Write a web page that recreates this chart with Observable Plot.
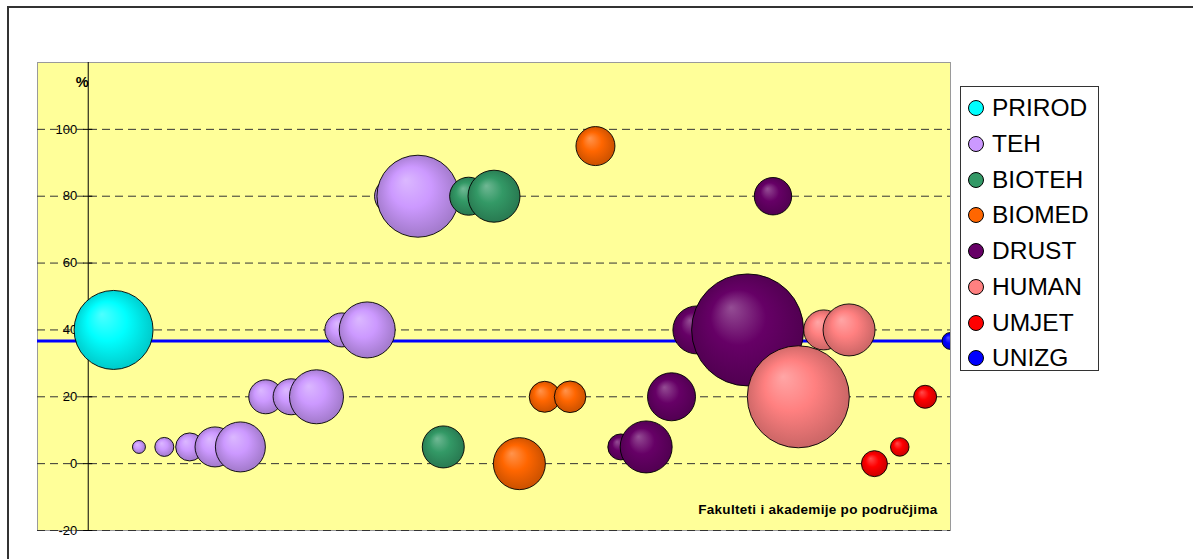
<!DOCTYPE html>
<html>
<head>
<meta charset="utf-8">
<script src="https://cdn.jsdelivr.net/npm/d3@7"></script>
<script src="https://cdn.jsdelivr.net/npm/@observablehq/plot@0.6"></script>
<style>
  body { margin: 0; background: #fff; font-family: "Liberation Sans", Arial, sans-serif; }
  #wrap { position: relative; width: 1193px; height: 559px; overflow: hidden; background: #fff; }
  #wrap svg { position: absolute; left: 0; top: 0; }
  #border { position: absolute; left: 7px; top: 6px; width: 1300px; height: 700px;
            border-left: 2px solid #333; border-top: 2px solid #333; pointer-events: none; }
  #legend { position: absolute; left: 960px; top: 86px; width: 139px; height: 285px;
            border: 1px solid #333; background: #fff; box-sizing: border-box; }
  .item { position: absolute; left: 0; height: 36px; line-height: 36px; font-size: 24.5px; color: #000; white-space: nowrap; }
  .sw { position: absolute; left: 7px; top: 10px; width: 14px; height: 14px; border: 1px solid #000; border-radius: 50%; }
  .lab { position: absolute; left: 31px; top: 0; }
</style>
</head>
<body>
<div id="wrap"></div>
<script>
// ---- data ----
const seriesNames = ["PRIROD", "TEH", "BIOTEH", "BIOMED", "DRUST", "HUMAN", "UMJET", "UNIZG"];
const seriesColors = ["#00FFFF", "#CC99FF", "#339966", "#FF6600", "#660066", "#FF8080", "#FF0000", "#0000FF"];

// bubbles (parallel arrays): series, x position, y value (%), bubble size
const bubbleSeries = [
  "PRIROD",
  "TEH", "TEH", "TEH", "TEH", "TEH", "TEH", "TEH", "TEH", "TEH", "TEH", "TEH", "TEH",
  "BIOTEH", "BIOTEH", "BIOTEH",
  "BIOMED", "BIOMED", "BIOMED", "BIOMED",
  "DRUST", "DRUST", "DRUST", "DRUST", "DRUST", "DRUST",
  "HUMAN", "HUMAN", "HUMAN",
  "UMJET", "UMJET", "UMJET",
  "UNIZG"
];
const bubbleX = [
  1,
  2, 3, 4, 5, 6, 7, 8, 9, 10, 11, 12, 13,
  14, 15, 16,
  17, 18, 19, 20,
  21, 22, 23, 24, 26, 27,
  28, 29, 30,
  31, 32, 33,
  34
];
const bubbleY = [
  40,
  5, 5, 5, 5, 5, 20, 20, 20, 40, 40, 80, 80,
  5, 80, 80,
  0, 20, 20, 95,
  5, 5, 20, 40, 40, 80,
  20, 40, 40,
  0, 5, 20,
  36.7
];
const bubbleSize = [
  1560,
  42, 90, 196, 400, 625, 289, 324, 729, 289, 784, 324, 1681,
  441, 361, 676,
  676, 240, 250, 380,
  169, 676, 576, 576, 3136, 350,
  2601, 400, 676,
  169, 86, 132,
  72
];
const unizgValue = [36.7];
const yTicks = [-20, 0, 20, 40, 60, 80, 100];
const gridTicks = [-20, 0, 20, 40, 60, 80, 100];
const yUnit = ["%"];
const caption = ["Fakulteti i akademije po područjima"];

// ---- build table ----
const bubbles = bubbleSeries.map((s, i) => ({series: s, x: bubbleX[i], y: bubbleY[i], size: bubbleSize[i]}));
const gradId = s => "grad-" + seriesNames.indexOf(s);

const font = "Liberation Sans, Arial, sans-serif";

const dotMarks = seriesNames.map(s => Plot.dot(bubbles.filter(d => d.series === s), {
  x: "x", y: "y", r: "size",
  fill: `url(#${gradId(s)})`,
  stroke: "#000", strokeWidth: 0.9,
  sort: null,
  clip: true
}));

const chart = Plot.plot({
  width: 1193,
  height: 559,
  marginLeft: 37,
  marginRight: 243,
  marginTop: 62,
  marginBottom: 29,
  style: {background: "transparent", fontFamily: font},
  x: {domain: [-2, 34], axis: null},
  y: {domain: [-20, 120], axis: null},
  r: {type: "sqrt", domain: [0, 3136], range: [0, 56]},
  marks: [
    Plot.frame({fill: "#FFFF99", stroke: "#9a9a9a"}),
    Plot.text(yTicks, {x: () => 0, y: d => d, text: d => String(d), dx: -11, textAnchor: "end",
      fontSize: 13, fill: "#000", fontFamily: font}),
    Plot.ruleY(gridTicks, {stroke: "#333", strokeWidth: 1, strokeDasharray: "8,5"}),
    Plot.ruleY(yTicks, {x1: () => -0.18, x2: () => 0.18, stroke: "#000", strokeWidth: 1}),
    Plot.ruleX([0], {stroke: "#000", strokeWidth: 1}),
    Plot.ruleY(unizgValue, {stroke: "#0000FF", strokeWidth: 3}),
    ...dotMarks,
    Plot.text(yUnit, {x: () => 0, frameAnchor: "top", dx: -6, dy: 14, fontWeight: "bold", fontSize: 14.5, fill: "#000", fontFamily: font}),
    Plot.text(caption, {frameAnchor: "bottom-right", textAnchor: "end", dx: -13, dy: -17, fontWeight: "bold", fontSize: 13.5, fill: "#000", fontFamily: font})
  ]
});

// slight letter spacing on caption to match reference width
d3.select(chart).selectAll("text").filter(function() { return this.textContent === caption[0]; })
  .style("letter-spacing", "0.3px");

// radial gradients for 3D bubble look
const defs = d3.select(chart).insert("defs", ":first-child");
seriesNames.forEach((s, i) => {
  const base = d3.color(seriesColors[i]);
  const light = d3.interpolateRgb(base, "#fff")(0.3);
  const dark = base.darker(0.75).formatHex();
  const g = defs.append("radialGradient").attr("id", gradId(s))
    .attr("cx", "0.5").attr("cy", "0.5").attr("r", "0.55")
    .attr("fx", "0.35").attr("fy", "0.3");
  g.append("stop").attr("offset", "0").attr("stop-color", light);
  g.append("stop").attr("offset", "0.45").attr("stop-color", base.formatHex());
  g.append("stop").attr("offset", "1").attr("stop-color", dark);
});

const wrap = document.getElementById("wrap");
wrap.appendChild(chart);

const border = document.createElement("div");
border.id = "border";
wrap.appendChild(border);

// legend
const legend = document.createElement("div");
legend.id = "legend";
seriesNames.forEach((s, i) => {
  const it = document.createElement("div");
  it.className = "item";
  it.style.top = (3.3 + i * 35.7) + "px";
  const sw = document.createElement("span");
  sw.className = "sw";
  sw.style.background = seriesColors[i];
  const lab = document.createElement("span");
  lab.className = "lab";
  lab.textContent = s;
  it.appendChild(sw);
  it.appendChild(lab);
  legend.appendChild(it);
});
wrap.appendChild(legend);
</script>
</body>
</html>
